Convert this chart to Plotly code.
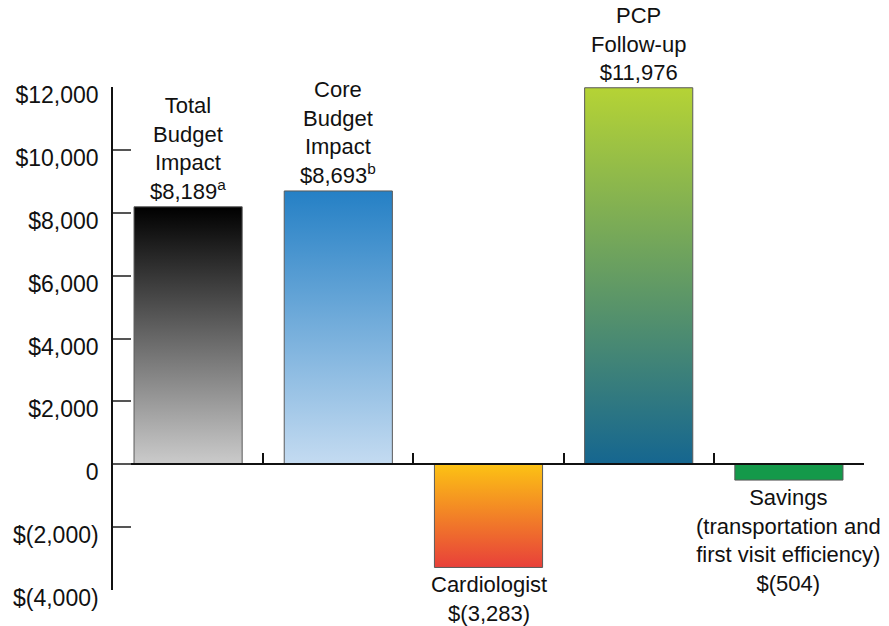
import plotly.graph_objects as go

categories = ["Total Budget Impact", "Core Budget Impact", "Cardiologist", "PCP Follow-up", "Savings"]
values = [8189, 8693, -3283, 11976, -504]
labels = [
    "Total<br>Budget<br>Impact<br>$8,189<sup>a</sup>",
    "Core<br>Budget<br>Impact<br>$8,693<sup>b</sup>",
    "Cardiologist<br>$(3,283)",
    "PCP<br>Follow-up<br>$11,976",
    "Savings<br>(transportation and<br>first visit efficiency)<br>$(504)",
]
# gradient colours: (bottom, top)
bar_colors = [
    ("#cbcbcb", "#000000"),
    ("#c4dbf1", "#2580c5"),
    ("#e8403a", "#fcc214"),
    ("#156690", "#b5d335"),
    ("#14994a", "#14994a"),
]
tick_vals = [-4000, -2000, 0, 2000, 4000, 6000, 8000, 10000, 12000]
tick_text = ["$(4,000)", "$(2,000)", "0", "$2,000", "$4,000", "$6,000", "$8,000", "$10,000", "$12,000"]

BAR_HALF = 0.36
FONT = "Liberation Sans, Arial, sans-serif"

fig = go.Figure()
for i, (cat, v, (cb, ct)) in enumerate(zip(categories, values, bar_colors)):
    xs = [i - BAR_HALF, i - BAR_HALF, i + BAR_HALF, i + BAR_HALF, i - BAR_HALF]
    ys = [0, v, v, 0, 0]
    fig.add_trace(go.Scatter(
        x=xs, y=ys, mode="lines", fill="toself",
        fillgradient=dict(type="vertical", colorscale=[[0, cb], [1, ct]]),
        line=dict(color="#5a5a5a", width=1),
        name=cat, hoverinfo="skip", showlegend=False,
    ))

for i, (v, lab) in enumerate(zip(values, labels)):
    fig.add_annotation(
        x=i, y=v, text=lab, showarrow=False,
        yanchor="bottom" if v >= 0 else "top",
        yshift=1 if v >= 0 else -3,
        font=dict(family=FONT, size=22, color="#111111"),
        align="center",
    )

fig.update_layout(
    width=889, height=626,
    margin=dict(l=113, r=25, t=87, b=36),
    paper_bgcolor="white", plot_bgcolor="white",
    font=dict(family=FONT, size=23, color="#111111"),
    xaxis=dict(
        range=[-0.5, len(categories) - 0.5],
        anchor="free", position=0.25,
        showline=True, linecolor="#111111", linewidth=1.5,
        tickvals=[0.5, 1.5, 2.5, 3.5, 4.5], ticks="inside", ticklen=11,
        tickcolor="#111111", tickwidth=1.5,
        showticklabels=False, showgrid=False, zeroline=False,
    ),
    yaxis=dict(
        range=[-4000, 12000],
        showline=True, linecolor="#111111", linewidth=1.5,
        tickvals=tick_vals, ticktext=tick_text,
        ticks="inside", ticklen=18, tickcolor="#555555", tickwidth=2,
        ticklabelstandoff=8, ticklabelshift=8,
        showgrid=False, zeroline=False,
        tickfont=dict(family=FONT, size=23, color="#111111"),
    ),
)

fig.write_html("out.html")
